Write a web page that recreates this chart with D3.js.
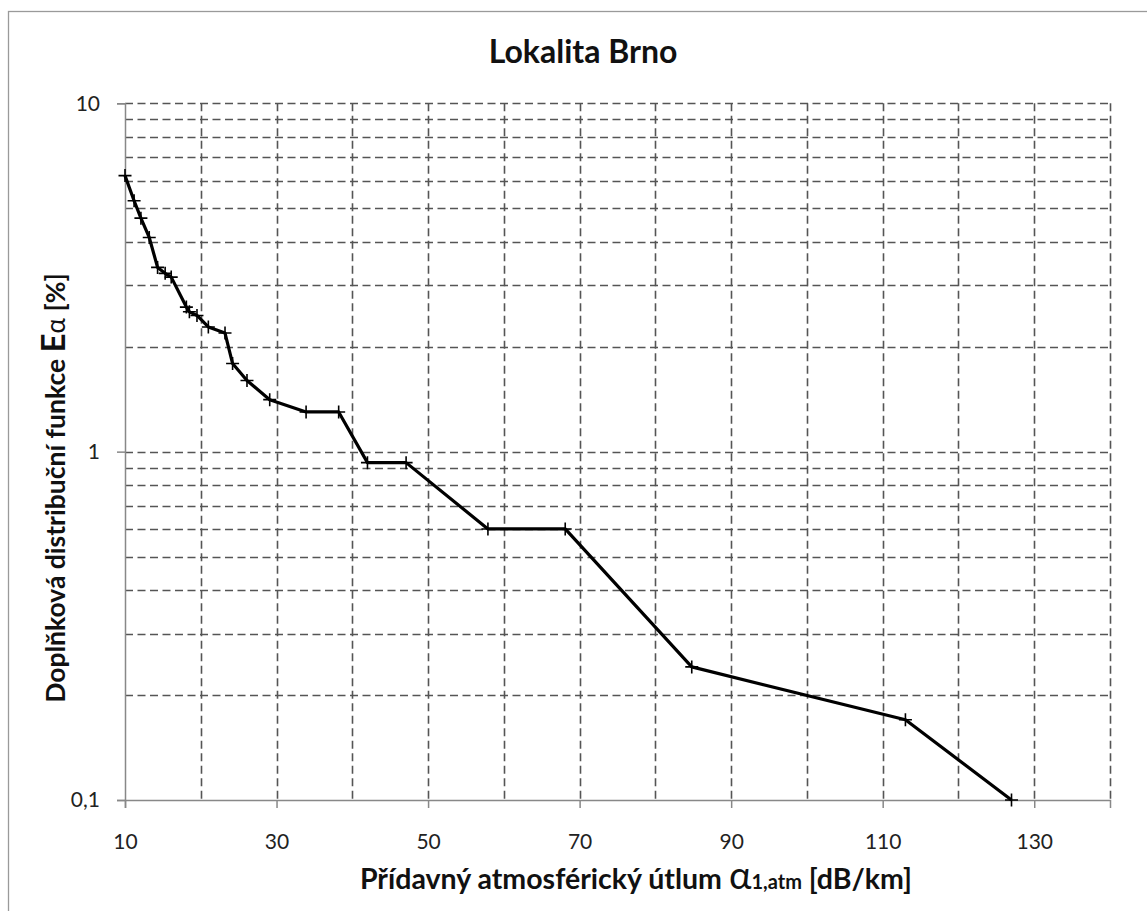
<!DOCTYPE html>
<html><head><meta charset="utf-8">
<script src="https://cdn.jsdelivr.net/npm/d3@7"></script>
<style>
html,body{margin:0;padding:0;background:#fff;}
svg{display:block;font-family:Lato,"Open Sans",sans-serif;}
</style></head>
<body><svg id="c" width="1147" height="911"></svg>
<script>
const xValues = [10, 11.2, 12.1, 13.2, 14.3, 15.3, 16.1, 18.1, 18.5, 19.5, 21, 23.2, 24.2, 26.1, 29.1, 33.9, 38.2, 42, 47.1, 57.9, 68.1, 84.8, 113, 127];
const yValues = [6.2, 5.25, 4.68, 4.12, 3.38, 3.25, 3.17, 2.6, 2.52, 2.46, 2.28, 2.19, 1.79, 1.6, 1.41, 1.3, 1.3, 0.93, 0.93, 0.6, 0.6, 0.241, 0.17, 0.1];
const xTickLabels = [10, 30, 50, 70, 90, 110, 130];
const xGrid = [20, 30, 40, 50, 60, 70, 80, 90, 100, 110, 120, 130, 140];
const yTickValues = [10, 1, 0.1];
const yTickLabels = ["10", "1", "0,1"];
const yGrid = [0.2,0.3,0.4,0.5,0.6,0.7,0.8,0.9,1,2,3,4,5,6,7,8,9,10];

const svg = d3.select("#c");
const L = 125, R = 1110, T = 103.3, B = 800;
const x = d3.scaleLinear().domain([10, 140]).range([L, R]);
const y = d3.scaleLog().domain([0.1, 10]).range([B, T]);

// outer frame
svg.append("rect").attr("x", 8.5).attr("y", 11.5).attr("width", 1160).attr("height", 950)
  .attr("fill", "none").attr("stroke", "#9a9a9a").attr("stroke-width", 1.3);

// gridlines
const grid = svg.append("g").attr("stroke", "#555").attr("stroke-width", 1.6).attr("stroke-dasharray", "8,4.5");
grid.selectAll("line.h").data(yGrid).join("line").attr("class","h")
  .attr("x1", L).attr("x2", R).attr("y1", d => Math.round(y(d))+0.5).attr("y2", d => Math.round(y(d))+0.5);
grid.selectAll("line.v").data(xGrid).join("line").attr("class","v")
  .attr("y1", T).attr("y2", B).attr("x1", d => Math.round(x(d))+0.5).attr("x2", d => Math.round(x(d))+0.5);

// axes
const xAxis = d3.axisBottom(x).tickValues(xTickLabels).tickSize(8).tickFormat(d => d);
const gx = svg.append("g").attr("transform", `translate(0,${B})`).call(xAxis);
gx.select(".domain").attr("stroke", "#888").attr("stroke-width", 1.5);
gx.selectAll(".tick line").attr("stroke", "#888").attr("stroke-width", 1.5);
gx.selectAll(".tick text").attr("font-size", 21).attr("fill", "#222").attr("dy", 0).attr("y", 49)
  .attr("font-family", "Lato, sans-serif");

const yAxis = d3.axisLeft(y).tickValues(yTickValues).tickSize(8)
  .tickFormat((d, i) => yTickLabels[i]);
const gy = svg.append("g").attr("transform", `translate(${L},0)`).call(yAxis);
gy.select(".domain").attr("stroke", "#888").attr("stroke-width", 1.5);
gy.selectAll(".tick line").attr("stroke", "#888").attr("stroke-width", 1.5);
gy.selectAll(".tick text").attr("font-size", 21).attr("fill", "#222").attr("x", -25)
  .attr("font-family", "Lato, sans-serif");

// data line
const pts = xValues.map((v, i) => [v, yValues[i]]);
svg.append("path").datum(pts)
  .attr("d", d3.line().x(d => x(d[0])).y(d => y(d[1])))
  .attr("fill", "none").attr("stroke", "#000").attr("stroke-width", 3.2).attr("stroke-linejoin", "round");
const mk = svg.append("g").attr("stroke", "#000").attr("stroke-width", 1.6);
mk.selectAll("path").data(pts).join("path")
  .attr("d", d => {
    const cx = x(d[0]), cy = y(d[1]);
    return `M${cx-6.5},${cy}H${cx+6.5}M${cx},${cy-6.5}V${cy+6.5}`;
  });

// title
svg.append("text").attr("x", 583).attr("y", 63).attr("text-anchor", "middle")
  .attr("font-size", 32).attr("font-weight", "bold").attr("fill", "#111").text("Lokalita Brno");

// x title
const xt = svg.append("text").attr("x", 636).attr("y", 889).attr("text-anchor", "middle")
  .attr("font-size", 28.5).attr("font-weight", "bold").attr("fill", "#111");
xt.append("tspan").text("Přídavný atmosférický útlum ");
xt.append("tspan").attr("font-size", 38).attr("font-weight", "normal").text("α");
xt.append("tspan").attr("font-size", 20).text("1,atm");
xt.append("tspan").text(" [dB/km]");

// y title
const yt = svg.append("text").attr("transform", "translate(65,488) rotate(-90)").attr("text-anchor", "middle")
  .attr("font-size", 26.5).attr("font-weight", "bold").attr("fill", "#111");
yt.append("tspan").text("Doplňková distribuční funkce ");
yt.append("tspan").attr("font-size", 33).text("E");
yt.append("tspan").attr("font-size", 26).attr("font-weight", "normal").text("α");
yt.append("tspan").text(" [%]");
</script></body></html>
